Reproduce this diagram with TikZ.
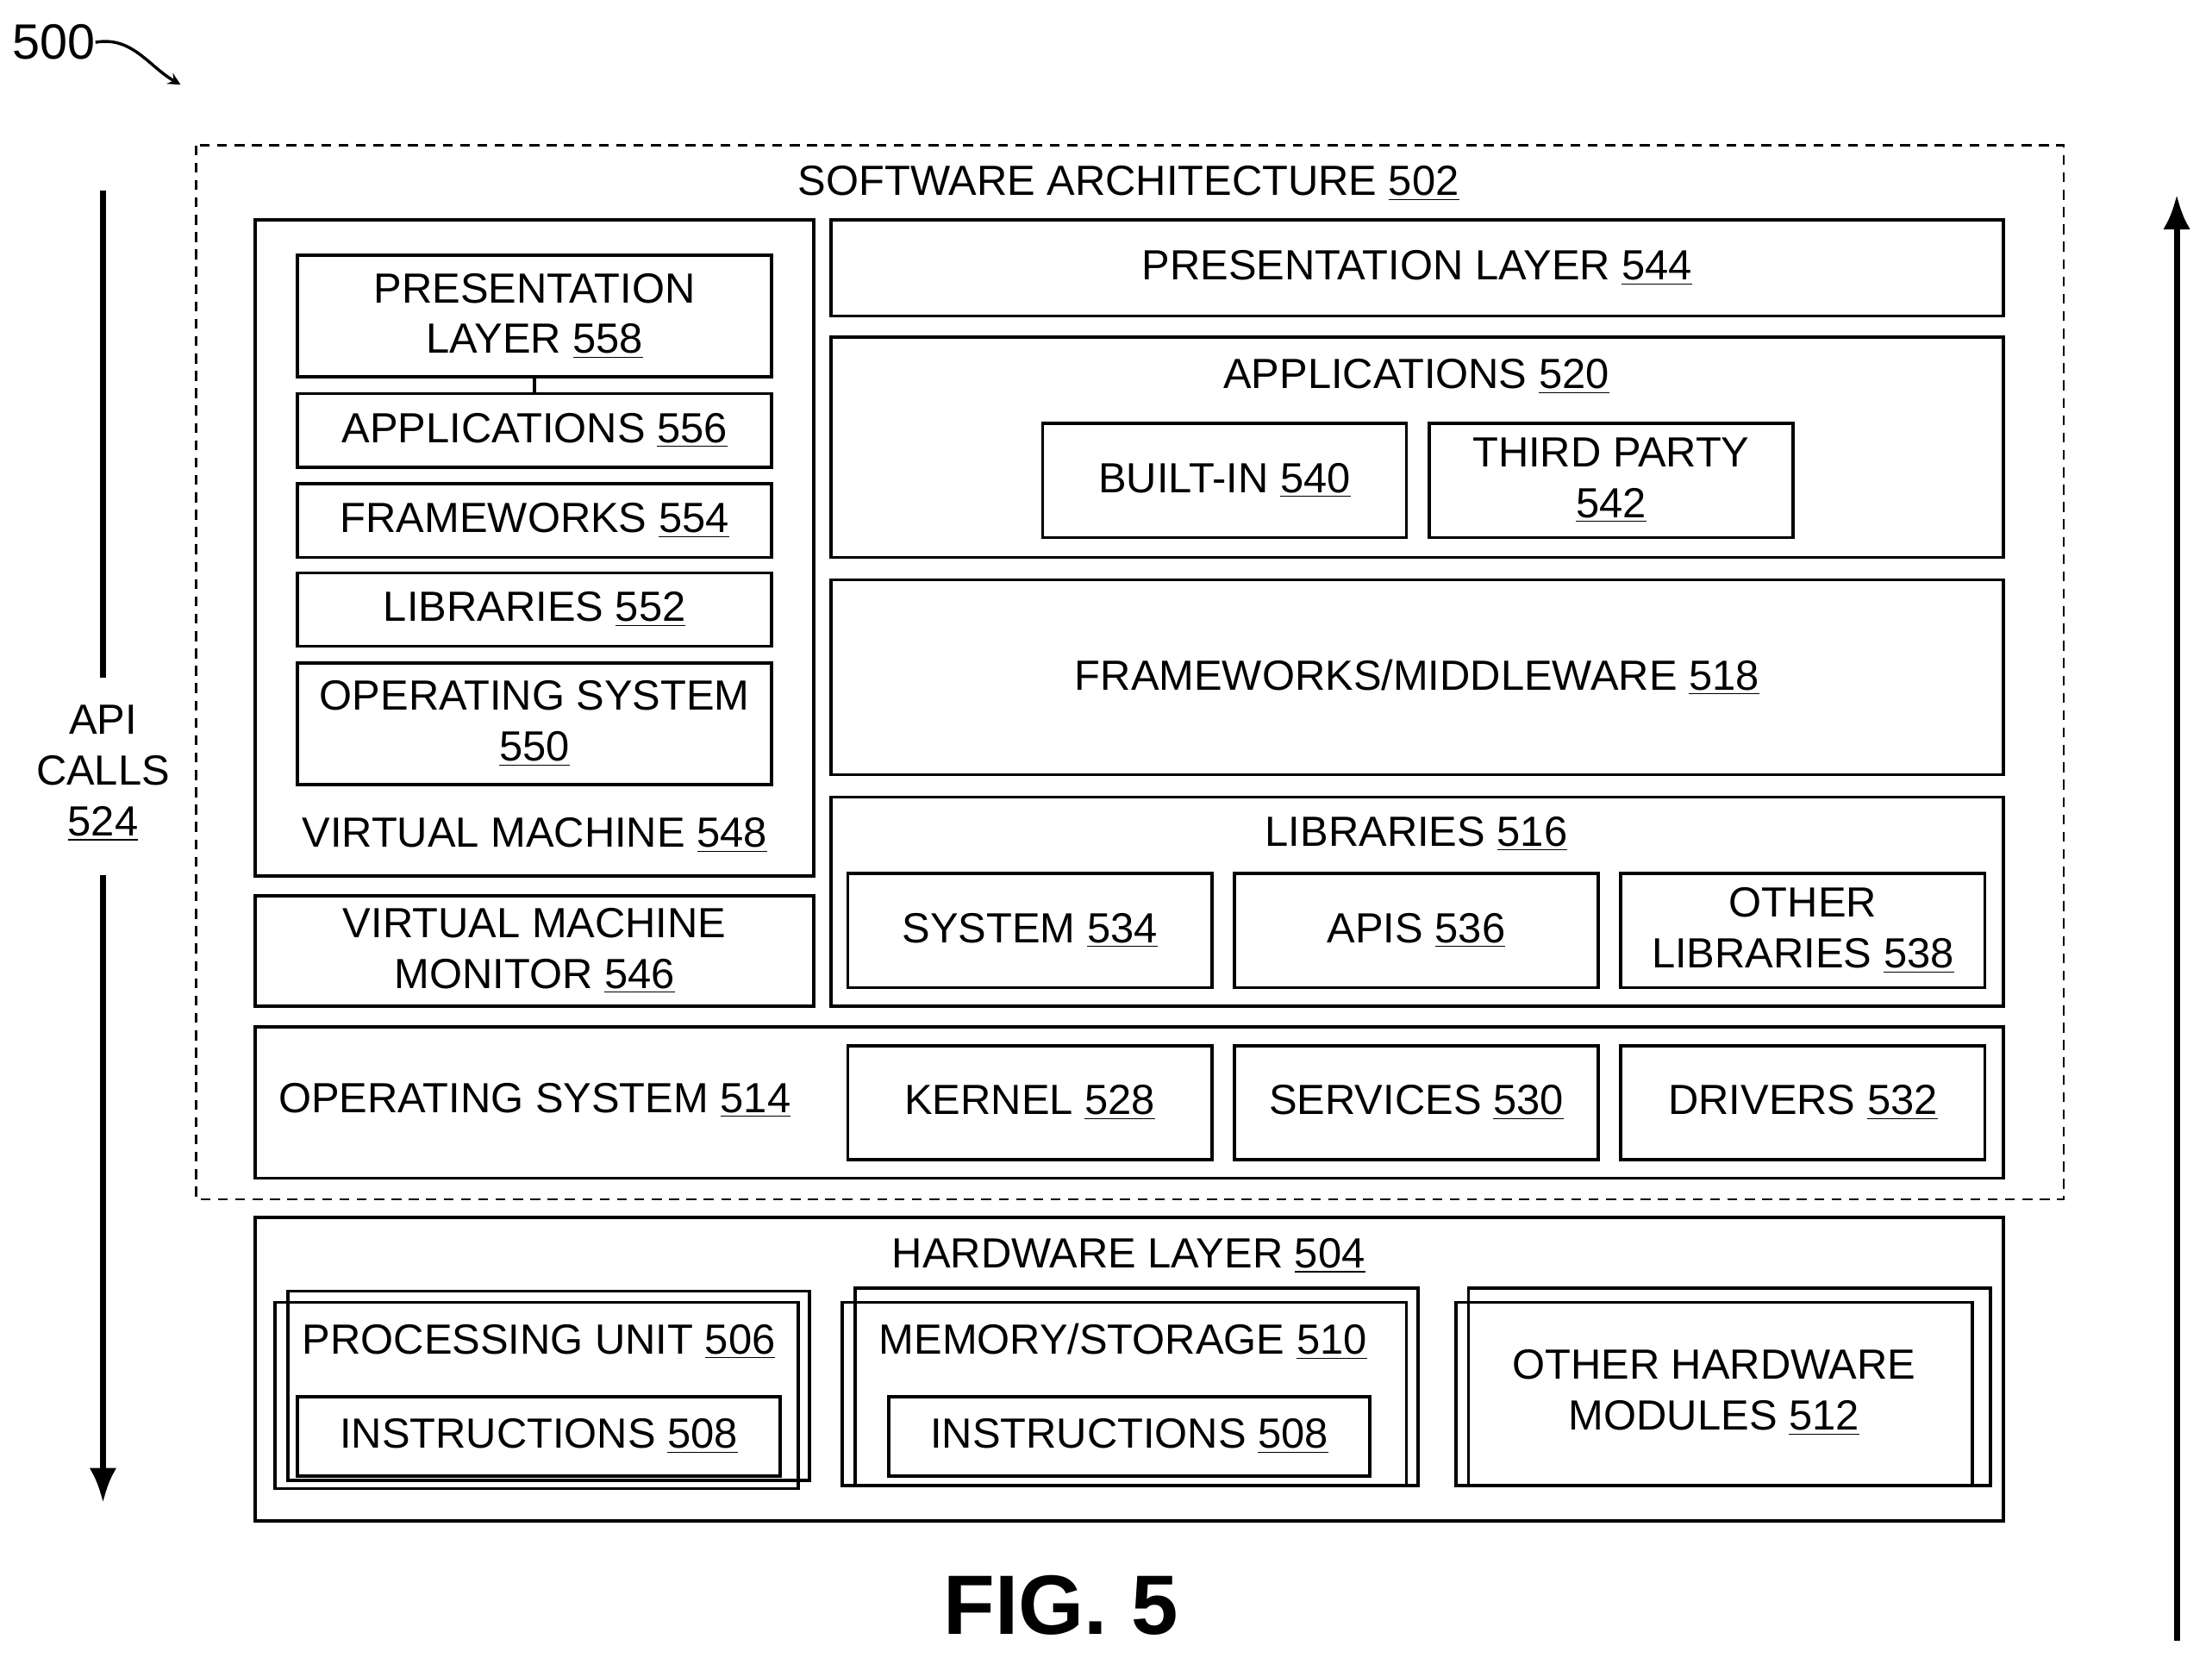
\documentclass[tikz,border=0pt]{standalone}
\usepackage{fontspec}
\setmainfont{Liberation Sans}
\usetikzlibrary{arrows.meta}
\begin{document}
\begin{tikzpicture}[x=0.02cm,y=-0.02cm,
  bx/.style={draw,line width=1.3pt},
  t/.style={font=\fontsize{17}{20.5}\selectfont,align=center,inner sep=0pt},
  bigarrow/.style={line width=2.5pt,-{Latex[length=14pt,width=11pt]}}]
\newcommand{\U}[1]{\underline{#1}}
\useasboundingbox (0,0) rectangle (1568,1175);
\node[t,font=\fontsize{20}{24}\selectfont] (n500) at (38,30) {500};
\coordinate (a500) at (128,60);
\draw[line width=1.2pt,-stealth] (n500.east) to[out=10,in=150] (a500);
\draw[dash pattern=on 4pt off 3pt,line width=0.8pt] (139,103) rectangle (1463,850);
\node[t] (sa) at (800,130) {SOFTWARE ARCHITECTURE \U{502}};
% left VM
\draw[bx] (181,156) rectangle (577,621);
\draw[bx] (211,181) rectangle (547,267) node[t,midway] (p558) {PRESENTATION\\LAYER \U{558}};
\draw[bx] (211,279) rectangle (547,331) node[t,midway] (a556) {APPLICATIONS \U{556}};
\coordinate (c1) at (379,267); \coordinate (c2) at (379,279);
\draw[line width=1.3pt] (c1) -- (c2);
\draw[bx] (211,343) rectangle (547,395) node[t,midway] {FRAMEWORKS \U{554}};
\draw[bx] (211,406) rectangle (547,458) node[t,midway] {LIBRARIES \U{552}};
\draw[bx] (211,470) rectangle (547,556) node[t,midway] {OPERATING SYSTEM\\\U{550}};
\node[t] at (379,592) {VIRTUAL MACHINE \U{548}};
\draw[bx] (181,635) rectangle (577,713) node[t,midway] {VIRTUAL MACHINE\\MONITOR \U{546}};
% right
\draw[bx] (589,156) rectangle (1420,224) node[t,midway] {PRESENTATION LAYER \U{544}};
\draw[bx] (589,239) rectangle (1420,395);
\node[t] at (1004,267) {APPLICATIONS \U{520}};
\draw[bx] (739,300) rectangle (997,381) node[t,midway] {BUILT-IN \U{540}};
\draw[bx] (1013,300) rectangle (1271,381) node[t,midway] {THIRD PARTY\\\U{542}};
\draw[bx] (589,411) rectangle (1420,549) node[t,midway] {FRAMEWORKS/MIDDLEWARE \U{518}};
\draw[bx] (589,565) rectangle (1420,713);
\node[t] at (1004,591) {LIBRARIES \U{516}};
\draw[bx] (601,619) rectangle (859,700) node[t,midway] {SYSTEM \U{534}};
\draw[bx] (875,619) rectangle (1133,700) node[t,midway] {APIS \U{536}};
\draw[bx] (1149,619) rectangle (1407,700) node[t,midway] {OTHER\\LIBRARIES \U{538}};
% OS
\draw[bx] (181,728) rectangle (1420,835);
\node[t] at (379,780) {OPERATING SYSTEM \U{514}};
\draw[bx] (601,741) rectangle (859,822) node[t,midway] {KERNEL \U{528}};
\draw[bx] (875,741) rectangle (1133,822) node[t,midway] {SERVICES \U{530}};
\draw[bx] (1149,741) rectangle (1407,822) node[t,midway] {DRIVERS \U{532}};
% hardware
\draw[bx] (181,863) rectangle (1420,1078);
\node[t] at (800,890) {HARDWARE LAYER \U{504}};
\draw[bx] (195,923) rectangle (566,1055);
\draw[bx] (204,915) rectangle (574,1049);
\node[t] at (382,951) {PROCESSING UNIT \U{506}};
\draw[bx] (211,990) rectangle (553,1046) node[t,midway] {INSTRUCTIONS \U{508}};
\draw[bx] (597,923) rectangle (997,1053);
\draw[bx] (606,913) rectangle (1005,1053);
\node[t] at (796,951) {MEMORY/STORAGE \U{510}};
\draw[bx] (630,990) rectangle (971,1046) node[t,midway] {INSTRUCTIONS \U{508}};
\draw[bx] (1032,923) rectangle (1398,1053);
\draw[bx] (1041,913) rectangle (1411,1053);
\node[t] at (1215,987) {OTHER HARDWARE\\MODULES \U{512}};
% API calls
\node[t] (api) at (73,548) {API\\CALLS\\\U{524}};
\coordinate (l1) at (73,135); \coordinate (l2) at (73,480);
\coordinate (l3) at (73,620); \coordinate (l4) at (73,1065);
\draw[line width=2.5pt] (l1) -- (l2);
\draw[bigarrow] (l3) -- (l4);
\coordinate (r1) at (1543,1163); \coordinate (r2) at (1543,138);
\draw[bigarrow] (r1) -- (r2);
\node[t,font=\fontsize{34}{40}\bfseries\selectfont] at (752,1138) {FIG. 5};
\end{tikzpicture}
\end{document}
